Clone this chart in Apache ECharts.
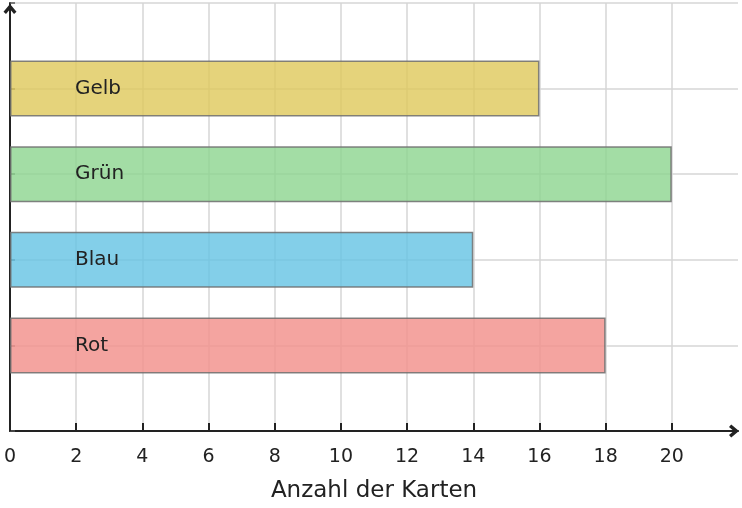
<!DOCTYPE html>
<html>
<head>
    <meta charset="utf-8">
    <title>Karten</title>
    <script src="https://cdn.jsdelivr.net/npm/echarts@6/dist/echarts.min.js"></script>
    <style>
        html, body { margin: 0; padding: 0; background: #fff; }
        #main { width: 742px; height: 508px; }
    </style>
</head>
<body>
    <div id="main"></div>
    <script type="text/javascript">
        // Daten
        var categories = ['Rot', 'Blau', 'Grün', 'Gelb'];
        var counts = [18, 14, 20, 16];
        var barColors = ['rgba(242,148,143,0.85)', 'rgba(100,195,228,0.8)', 'rgba(140,212,142,0.8)', 'rgba(222,200,90,0.8)'];
        var xTicks = [0, 2, 4, 6, 8, 10, 12, 14, 16, 18, 20];

        // leere Kategorien oben und unten als Rand
        var yData = [''].concat(categories).concat(['']);
        var barData = [null];
        for (var i = 0; i < counts.length; i++) {
            barData.push({ value: counts[i], itemStyle: { color: barColors[i] } });
        }
        barData.push(null);

        // offener Pfeil (Chevron) fuer die Achsenenden
        var arrow = 'path://M5,0 L10,6 L8.1,7.7 L5,4.1 L1.9,7.7 L0,6 Z';
        var font = '"DejaVu Sans", sans-serif';

        var myChart = echarts.init(document.getElementById('main'));
        var option = {
            animation: false,
            textStyle: { fontFamily: font },
            grid: { left: 10, right: 4, top: 3, bottom: 76, containLabel: false },
            xAxis: {
                type: 'value',
                min: 0,
                max: 22,
                interval: 2,
                name: 'Anzahl der Karten',
                nameLocation: 'middle',
                nameGap: 49,
                nameTextStyle: { fontSize: 23, color: '#222', fontFamily: font },
                axisLine: {
                    show: true,
                    symbol: ['none', arrow],
                    symbolSize: [13, 10],
                    symbolOffset: [0, -4],
                    lineStyle: { color: '#222', width: 2 }
                },
                axisTick: {
                    show: true, inside: true, length: 8,
                    customValues: xTicks,
                    lineStyle: { color: '#222', width: 2 }
                },
                axisLabel: {
                    customValues: xTicks,
                    fontSize: 19, color: '#222', margin: 17, fontFamily: font
                },
                splitLine: { show: true, lineStyle: { color: '#d6d6d6', width: 1.5 } }
            },
            yAxis: {
                type: 'category',
                data: yData,
                boundaryGap: false,
                axisLine: {
                    show: true,
                    symbol: ['none', arrow],
                    symbolSize: [13, 10],
                    symbolOffset: [0, -6],
                    lineStyle: { color: '#222', width: 2 }
                },
                axisTick: { show: true, inside: true, length: 5, lineStyle: { color: '#555', width: 1.5 } },
                axisLabel: { show: false },
                splitLine: { show: true, lineStyle: { color: '#d6d6d6', width: 1.5 } }
            },
            series: [{
                type: 'bar',
                data: barData,
                barWidth: 56,
                itemStyle: { borderColor: 'rgba(110,110,110,0.85)', borderWidth: 1.5 },
                label: {
                    show: true,
                    position: [65, '50%'],
                    verticalAlign: 'middle',
                    formatter: function (p) { return yData[p.dataIndex]; },
                    fontSize: 20,
                    color: '#222',
                    fontFamily: font
                }
            }]
        };
        myChart.setOption(option);
    </script>
</body>
</html>
